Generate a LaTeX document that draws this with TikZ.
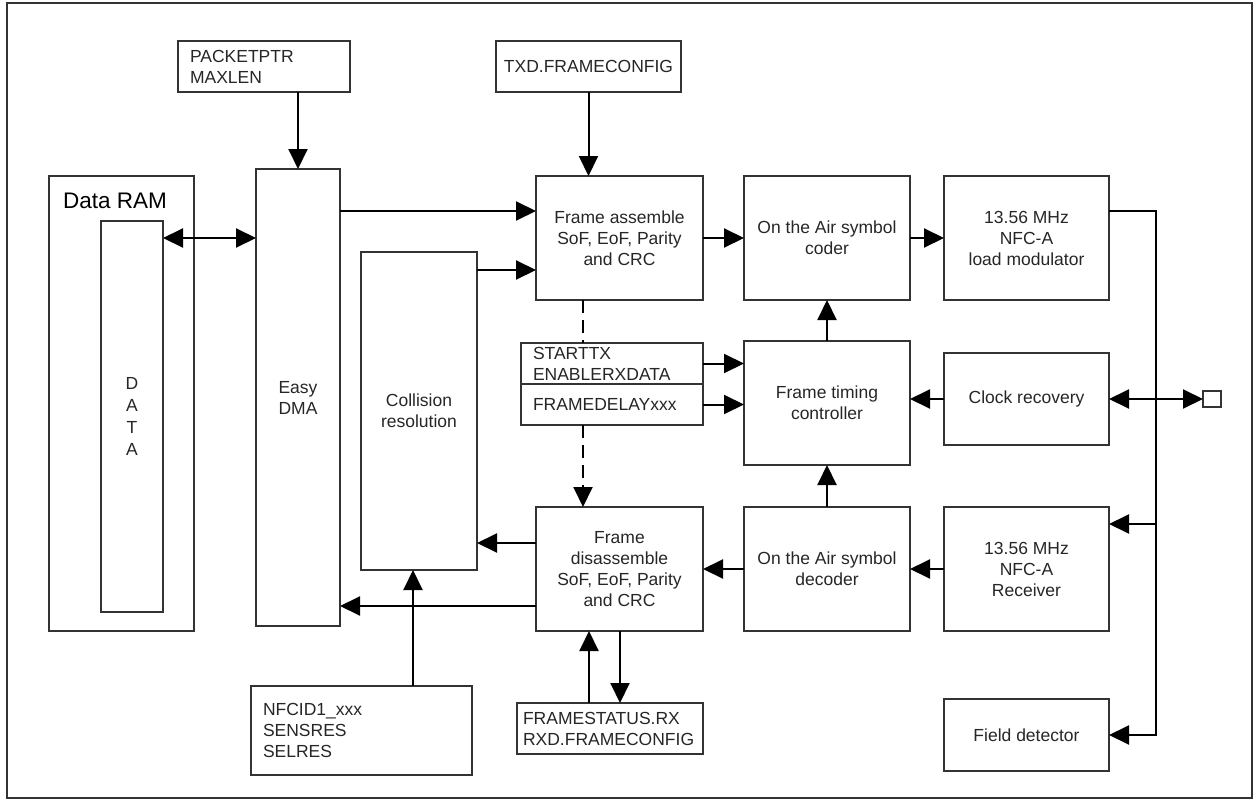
\documentclass[tikz,border=0pt]{standalone}
\usepackage{fontspec}
\setmainfont{Liberation Sans}
\usetikzlibrary{arrows.meta, positioning}

\begin{document}
\begin{tikzpicture}[x=1pt, y=-1pt, font=\fontsize{17.5}{21}\selectfont]
        \tikzstyle{component} = [rectangle, draw=black!80, line width=1.2pt, align=center, inner sep=0pt, outer sep=0pt, text=black!85]
        \tikzstyle{register} = [component, align=left, inner xsep=12pt]
        \tikzstyle{arrow} = [line width=2pt, -{Triangle[length=20pt,width=19pt]}]
        \tikzstyle{dblarrow} = [line width=2pt, {Triangle[length=20pt,width=19pt]}-{Triangle[length=20pt,width=19pt]}]
        \tikzstyle{wire} = [line width=2pt]
        \tikzstyle{dashedlink} = [line width=2pt, dash pattern=on 13pt off 7pt]

        \useasboundingbox (0,0) rectangle (1254,800);
        \draw [line width=1.2pt, black!80] (7,3) rectangle (1252,798);

        \node (packetptr) [register, text width=148pt, minimum height=51pt] at (264,66.5) {PACKETPTR\\MAXLEN};
        \node (txd) [component, minimum width=185pt, minimum height=51pt] at (588.5,66.5) {TXD.FRAMECONFIG};
        \node (dataram) [component, minimum width=145pt, minimum height=455pt] at (121.5,403.5) {};
        \node (ramlabel) [anchor=west, inner sep=0pt, font=\fontsize{22.5}{26}\selectfont] at (63,201) {Data RAM};
        \node (data) [component, minimum width=62pt, minimum height=391pt, font=\fontsize{17.5}{22}\selectfont] at (132,416.5) {D\\A\\T\\A};
        \node (dma) [component, minimum width=84pt, minimum height=457pt] at (298,397.5) {Easy\\DMA};
        \node (collision) [component, minimum width=116pt, minimum height=318pt] at (419,411) {Collision\\resolution};
        \node (assemble) [component, minimum width=167pt, minimum height=124pt] at (619.5,238) {Frame assemble\\SoF, EoF, Parity\\and CRC};
        \node (coder) [component, minimum width=166pt, minimum height=124pt] at (827,238) {On the Air symbol\\coder};
        \node (loadmod) [component, minimum width=165pt, minimum height=124pt] at (1026.5,238) {13.56 MHz\\NFC-A\\load modulator};
        \node (starttx) [register, text width=158pt, minimum height=41pt] at (612,363.5) {STARTTX\\ENABLERXDATA};
        \node (framedelay) [register, text width=158pt, minimum height=41pt] at (612,404.5) {FRAMEDELAYxxx};
        \node (timing) [component, minimum width=166pt, minimum height=124pt] at (827,403) {Frame timing\\controller};
        \node (clock) [component, minimum width=165pt, minimum height=92pt] at (1026.5,399) {Clock recovery};
        \node (pin) [component, minimum width=18pt, minimum height=16pt] at (1212,399) {};
        \node (disassemble) [component, minimum width=167pt, minimum height=124pt] at (619.5,569) {Frame\\disassemble\\SoF, EoF, Parity\\and CRC};
        \node (decoder) [component, minimum width=166pt, minimum height=124pt] at (827,569) {On the Air symbol\\decoder};
        \node (receiver) [component, minimum width=165pt, minimum height=124pt] at (1026.5,569) {13.56 MHz\\NFC-A\\Receiver};
        \node (field) [component, minimum width=165pt, minimum height=72pt] at (1026.5,735) {Field detector};
        \node (nfcid) [register, text width=197pt, minimum height=89pt] at (361.5,730.5) {NFCID1\_xxx\\SENSRES\\SELRES};
        \node (framestatus) [register, inner xsep=6pt, text width=174pt, minimum height=51pt] at (610,728.5) {FRAMESTATUS.RX\\RXD.FRAMECONFIG};

        \coordinate (bustop) at (1156,211);
        \coordinate (busbot) at (1156,735);

        \draw [arrow] (packetptr.south -| dma) -- (dma.north);
        \draw [arrow] (txd.south) -- (txd.south |- assemble.north);
        \draw [dblarrow] (data.east |- 0,238) -- (dma.west |- 0,238);
        \draw [arrow] (dma.east |- 0,211) -- (assemble.west |- 0,211);
        \draw [arrow] (collision.east |- 0,270) -- (assemble.west |- 0,270);
        \draw [arrow] (assemble) -- (coder);
        \draw [arrow] (coder) -- (loadmod);
        \draw [arrow] (loadmod.east |- bustop) -- (bustop) -- (busbot) -- (field.east);
        \draw [arrow] (bustop |- 0,524) -- (receiver.east |- 0,524);
        \draw [dblarrow] (clock.east) -- (pin.west);
        \draw [arrow] (clock.west) -- (timing.east |- clock.west);
        \draw [arrow] (timing.north) -- (coder.south);
        \draw [arrow] (decoder.north) -- (timing.south);
        \draw [dashedlink] (assemble.south -| 583,0) -- (starttx.north -| 583,0);
        \draw [dashedlink, -{Triangle[length=20pt,width=19pt]}] (framedelay.south -| 583,0) -- (disassemble.north -| 583,0);
        \draw [arrow] (starttx.east) -- (timing.west |- starttx.east);
        \draw [arrow] (framedelay.east) -- (timing.west |- framedelay.east);
        \draw [arrow] (receiver) -- (decoder);
        \draw [arrow] (decoder) -- (disassemble);
        \draw [arrow] (disassemble.west |- 0,543) -- (collision.east |- 0,543);
        \draw [arrow] (disassemble.west |- 0,606) -- (dma.east |- 0,606);
        \draw [arrow] (nfcid.north -| 413,0) -- (collision.south -| 413,0);
        \draw [arrow] (framestatus.north -| 589,0) -- (disassemble.south -| 589,0);
        \draw [arrow] (disassemble.south -| 620,0) -- (framestatus.north -| 620,0);
    \end{tikzpicture}
\end{document}
